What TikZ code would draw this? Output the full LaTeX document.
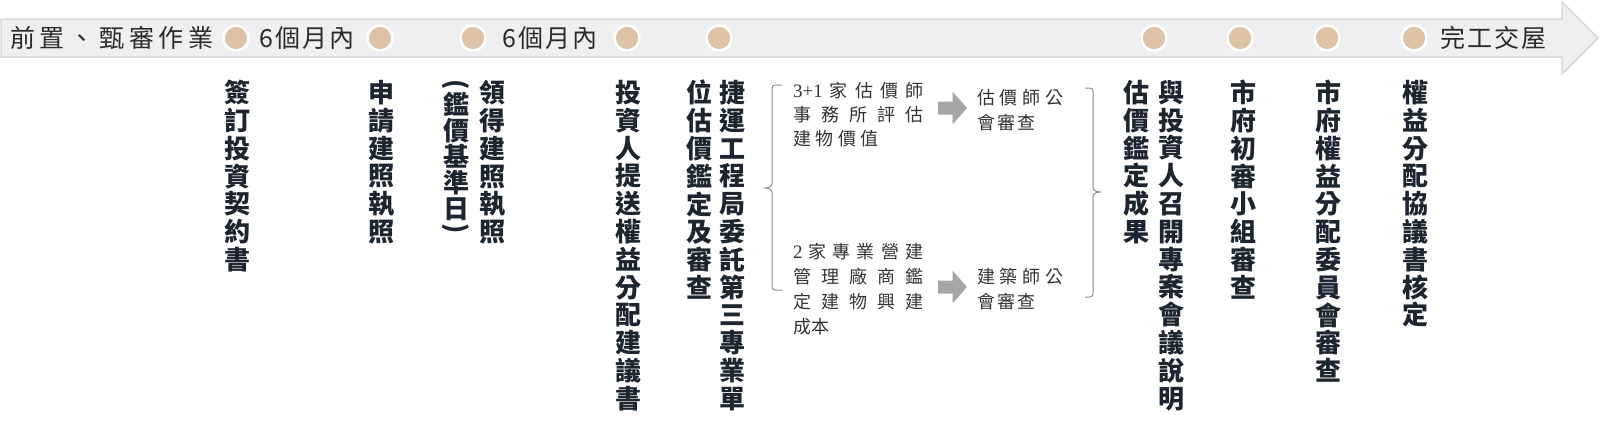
\documentclass[tikz,border=0pt]{standalone}
\usepackage{fontspec}
\usepackage{graphicx}
\setmainfont{Noto Sans CJK TC}
\newfontfamily\numf{Liberation Serif}
\usetikzlibrary{calc}
\definecolor{bandfill}{HTML}{EFEFEF}
\definecolor{bandline}{HTML}{D9D9D9}
\definecolor{dotfill}{HTML}{DFC3A7}
\definecolor{vtextc}{HTML}{1C2530}
\definecolor{btextc}{HTML}{2B2B2B}
\definecolor{mtextc}{HTML}{333333}
\definecolor{bracec}{HTML}{8C8C8C}
\definecolor{arrc}{HTML}{A6A6A6}
\newcommand{\blockarr}[1]{\fill[arrc] ([shift={(-14.5,-6.5)}]#1) -- ([shift={(0,-6.5)}]#1) -- ([shift={(0,-16.5)}]#1) -- ([shift={(14.5,0)}]#1) -- ([shift={(0,16.5)}]#1) -- ([shift={(0,6.5)}]#1) -- ([shift={(-14.5,6.5)}]#1) -- cycle;}
\newcommand{\nm}[1]{{\numf\fontsize{19}{19}\selectfont #1}}
\begin{document}
\begin{tikzpicture}[x=1pt,y=-1pt,
  vcol/.style={anchor=north, inner sep=0pt, align=center, text=vtextc, font=\bfseries\fontsize{26}{27.8}\selectfont},
  vcolparen/.style={vcol, font=\bfseries\fontsize{26}{26}\selectfont},
  btext/.style={anchor=west, inner sep=0pt, text=btextc, font=\fontsize{25}{25}\selectfont\addfontfeature{LetterSpace=8}},
  btextwide/.style={btext, font=\fontsize{25}{25}\selectfont\addfontfeature{LetterSpace=19}},
  mtext/.style={anchor=north west, inner sep=0pt, align=left, text=mtextc, font=\fontsize{18}{25}\selectfont},
  dot/.style={circle, fill=dotfill, draw=white, line width=2.5pt, minimum size=25pt, inner sep=0pt},
  bracel/.style={draw=bracec, line width=1pt, rounded corners=3pt}
]
\useasboundingbox (0,0) rectangle (1600,426);
% timeline band
\path[fill=bandfill, draw=bandline, line width=1.5pt, line join=miter]
  (1,19) -- (1562,19) -- (1562,2) -- (1598,38) -- (1562,74) -- (1562,57) -- (1,57) -- cycle;
% band texts
\node[btextwide] (b1) at (10,38) {前置、甄審作業};
\node[btext] (b2) at (259,38) {6個月內};
\node[btext] (b3) at (502,38) {6個月內};
\node[btext] (b4) at (1440,38) {完工交屋};
% milestone dots
\node[dot] (d1) at (236,38) {};
\node[dot] (d2) at (380,38) {};
\node[dot] (d3) at (473,38) {};
\node[dot] (d4) at (627,38) {};
\node[dot] (d5) at (719,38) {};
\node[dot] (d6) at (1154,38) {};
\node[dot] (d7) at (1240,38) {};
\node[dot] (d8) at (1327,38) {};
\node[dot] (d9) at (1414,38) {};
% vertical columns
\node[vcol] (c1) at (237,80) {簽\\訂\\投\\資\\契\\約\\書};
\node[vcol] (c2) at (381,80) {申\\請\\建\\照\\執\\照};
\node[vcol] (c3) at (492,80) {領\\得\\建\\照\\執\\照};
\node[vcol] (p1) at (456,79) {\rotatebox{-90}{(}};
\node[vcolparen] (c3b) at (456,92) {鑑\\價\\基\\準\\日};
\node[vcol, anchor=south] (p2) at (456,234) {\rotatebox{-90}{)}};
\node[vcol] (c4) at (628,80) {投\\資\\人\\提\\送\\權\\益\\分\\配\\建\\議\\書};
\node[vcol] (c5a) at (699,80) {位\\估\\價\\鑑\\定\\及\\審\\查};
\node[vcol] (c5b) at (732,80) {捷\\運\\工\\程\\局\\委\\託\\第\\三\\專\\業\\單};
\node[vcol] (c6a) at (1136,80) {估\\價\\鑑\\定\\成\\果};
\node[vcol] (c6b) at (1171,80) {與\\投\\資\\人\\召\\開\\專\\案\\會\\議\\說\\明};
\node[vcol] (c7) at (1243,80) {市\\府\\初\\審\\小\\組\\審\\查};
\node[vcol] (c8) at (1328,80) {市\\府\\權\\益\\分\\配\\委\\員\\會\\審\\查};
\node[vcol] (c9) at (1415,80) {權\\益\\分\\配\\協\\議\\書\\核\\定};
% middle texts
\node[mtext, font=\fontsize{18}{24}\selectfont] (m1) at (793,82) {\makebox[130pt][s]{\nm{3+1}\hfil 家\hfil 估\hfil 價\hfil 師}\\
  \makebox[130pt][s]{事\hfil 務\hfil 所\hfil 評\hfil 估}\\
  建\kern4.5pt 物\kern4.5pt 價\kern4.5pt 值};
\node[mtext] (m2) at (793,243) {\makebox[130pt][s]{\nm{2}\hfil 家\hfil 專\hfil 業\hfil 營\hfil 建}\\
  \makebox[130pt][s]{管\hfil 理\hfil 廠\hfil 商\hfil 鑑}\\
  \makebox[130pt][s]{定\hfil 建\hfil 物\hfil 興\hfil 建}\\
  成本};
\node[mtext] (r1) at (977,89) {估\kern4.7pt 價\kern4.7pt 師\kern4.7pt 公\\會\kern2pt 審\kern2pt 查};
\node[mtext] (r2) at (977,268) {建\kern4.7pt 築\kern4.7pt 師\kern4.7pt 公\\會\kern2pt 審\kern2pt 查};
% block arrows
\coordinate (a1) at (952.5,108);
\coordinate (a2) at (952.5,287);
\blockarr{a1}
\blockarr{a2}
% braces
\draw[bracel] (782,85) -- (772,85) -- (772,181) .. controls (772,186) and (769,188) .. (762,188)
  .. controls (769,188) and (772,190) .. (772,195) -- (772,290) -- (782,290);
\draw[bracel] (1085,88) -- (1093,88) -- (1093,185) .. controls (1093,190) and (1096,192) .. (1103,192)
  .. controls (1096,192) and (1093,194) .. (1093,199) -- (1093,297) -- (1085,297);
\end{tikzpicture}
\end{document}
